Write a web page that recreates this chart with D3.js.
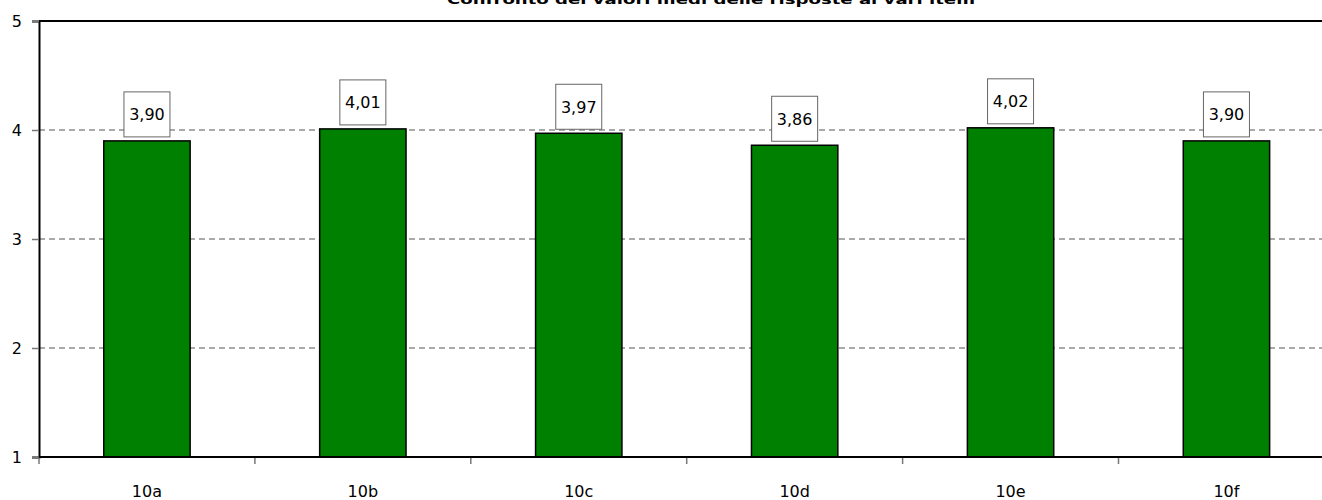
<!DOCTYPE html>
<html>
<head>
<meta charset="utf-8">
<script src="https://cdn.jsdelivr.net/npm/d3@7"></script>
<style>
  html, body { margin: 0; padding: 0; background: #fff; overflow: hidden; }
  svg { display: block; }
</style>
</head>
<body>
<svg id="chart" width="1322" height="500"></svg>
<script>
const title = "Confronto dei valori medi delle risposte ai vari item";
const categories = ["10a", "10b", "10c", "10d", "10e", "10f"];
const values = [3.90, 4.01, 3.97, 3.86, 4.02, 3.90];
const yTicks = [1, 2, 3, 4, 5];
const gridTicks = [2, 3, 4];

const svg = d3.select("#chart");
const mLeft = 39, mTop = 21, mBottom = 457, mRight = 39 + 6 * 215.9;
const font = "'DejaVu Sans', Verdana, sans-serif";

const x = d3.scaleBand().domain(categories).range([mLeft, mRight])
  .paddingInner(0.6).paddingOuter(0.3);
const y = d3.scaleLinear().domain([1, 5]).range([mBottom, mTop]);

// title (cut off at top)
svg.append("text")
  .attr("x", 711).attr("y", 3.5)
  .attr("text-anchor", "middle")
  .attr("font-family", font).attr("font-size", 13).attr("font-weight", "bold")
  .attr("textLength", 528).attr("lengthAdjust", "spacingAndGlyphs")
  .text(title);

// gridlines
svg.append("g").selectAll("line").data(gridTicks).join("line")
  .attr("x1", mLeft).attr("x2", mRight)
  .attr("y1", d => y(d)).attr("y2", d => y(d))
  .attr("stroke", "#555").attr("stroke-width", 1)
  .attr("stroke-dasharray", "6,4");

// top border
svg.append("line").attr("x1", mLeft).attr("x2", mRight)
  .attr("y1", y(5)).attr("y2", y(5))
  .attr("stroke", "#000").attr("stroke-width", 2);

// y axis
const yAxis = svg.append("g").attr("transform", `translate(${mLeft},0)`)
  .call(d3.axisLeft(y).tickValues(yTicks).tickFormat(d3.format("d")).tickSize(7).tickPadding(10));
yAxis.select(".domain").attr("stroke", "#000").attr("stroke-width", 2);
yAxis.selectAll(".tick line").attr("stroke", "#777").attr("stroke-width", 1.5);
yAxis.selectAll(".tick text").attr("font-family", font).attr("font-size", 16).attr("fill", "#000");

// x axis ticks at band boundaries
const xAxisG = svg.append("g").attr("transform", `translate(0,${mBottom})`);
const boundaries = d3.range(categories.length + 1).map(i => mLeft + i * x.step());
xAxisG.selectAll("line.t").data(boundaries).join("line").attr("class", "t")
  .attr("x1", d => d).attr("x2", d => d).attr("y1", 0).attr("y2", 7)
  .attr("stroke", "#777").attr("stroke-width", 1.5);
xAxisG.selectAll("text").data(categories).join("text")
  .attr("x", d => x(d) + x.bandwidth() / 2).attr("y", 40)
  .attr("text-anchor", "middle")
  .attr("font-family", font).attr("font-size", 16).attr("fill", "#000")
  .text(d => d);

// bars
svg.append("g").selectAll("rect").data(categories).join("rect")
  .attr("x", d => x(d)).attr("width", x.bandwidth())
  .attr("y", (d, i) => y(values[i]))
  .attr("height", (d, i) => mBottom - y(values[i]))
  .attr("fill", "#008000").attr("stroke", "#000").attr("stroke-width", 1.5);

// x axis line (over bars)
svg.append("line").attr("x1", mLeft).attr("x2", mRight)
  .attr("y1", mBottom).attr("y2", mBottom)
  .attr("stroke", "#000").attr("stroke-width", 2);

// value labels
const fmt = v => d3.format(".2f")(v).replace(".", ",");
const lbl = svg.append("g").selectAll("g").data(categories).join("g")
  .attr("transform", (d, i) => `translate(${x(d) + x.bandwidth() / 2},${y(values[i]) - 4})`);
lbl.append("rect")
  .attr("x", -23).attr("y", -45).attr("width", 46).attr("height", 45)
  .attr("fill", "#fff").attr("stroke", "#666").attr("stroke-width", 1);
lbl.append("text")
  .attr("x", 0).attr("y", -16.5)
  .attr("text-anchor", "middle")
  .attr("font-family", font).attr("font-size", 16).attr("fill", "#000")
  .text((d, i) => fmt(values[i]));
</script>
</body>
</html>
